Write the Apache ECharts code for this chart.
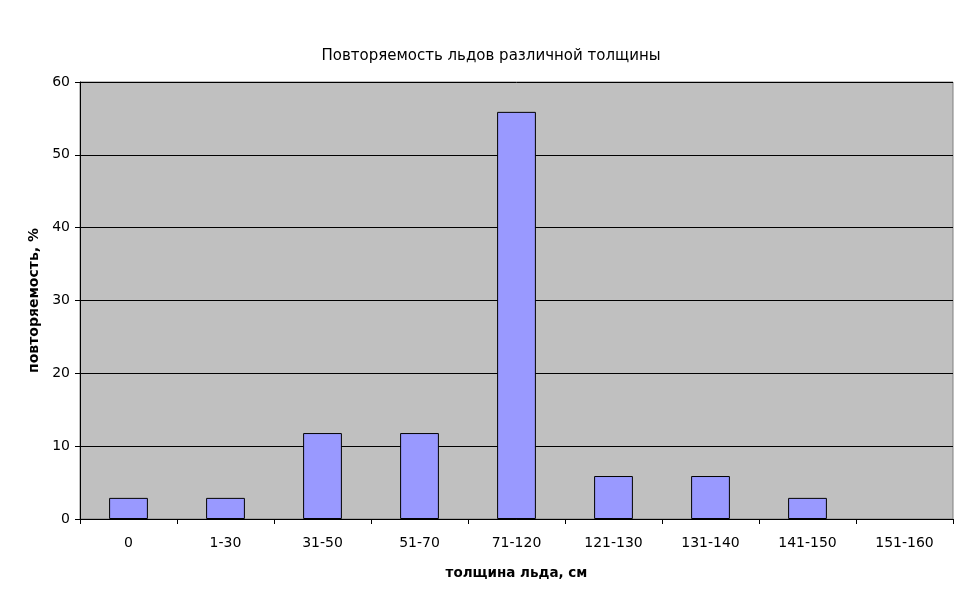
<!DOCTYPE html>
<html><head><meta charset="utf-8">
<script src="https://cdn.jsdelivr.net/npm/echarts@6/dist/echarts.min.js"></script>
<style>html,body{margin:0;padding:0;background:#fff}#c{width:969px;height:603px}</style>
</head><body><div id="c"></div>
<script>
const categories = ['0','1-30','31-50','51-70','71-120','121-130','131-140','141-150','151-160'];
const values = [2.9, 2.9, 11.8, 11.8, 55.9, 5.9, 5.9, 2.9, 0];
const yTicks = {min: 0, max: 60, interval: 10};
const titleText = 'Повторяемость льдов различной толщины';
const xName = 'толщина льда, см';
const yName = 'повторяемость, %';

const chart = echarts.init(document.getElementById('c'));
const font = 'DejaVu Sans, sans-serif';
chart.setOption({
  animation: false,
  title: {text: titleText, left: 486, top: 44, textAlign: 'center',
    textStyle: {fontFamily: font, fontSize: 15, fontWeight: 'normal', color: '#000'}},
  grid: {left: 80, right: 16, top: 82, bottom: 84, show: true, backgroundColor: '#C0C0C0',
    borderColor: '#808080', borderWidth: 1},
  xAxis: {type: 'category', data: categories,
    name: xName, nameLocation: 'middle', nameGap: 47,
    nameTextStyle: {fontFamily: font, fontSize: 13.5, fontWeight: 'bold', color: '#000'},
    axisLine: {lineStyle: {color: '#000', width: 1}},
    axisTick: {show: true, alignWithLabel: false, length: 5, lineStyle: {color: '#000'}},
    axisLabel: {fontFamily: font, fontSize: 14, color: '#000', margin: 17, interval: 0}},
  yAxis: {type: 'value', min: yTicks.min, max: yTicks.max, interval: yTicks.interval,
    name: yName, nameLocation: 'middle', nameGap: 35, nameRotate: 90,
    nameTextStyle: {fontFamily: font, fontSize: 14, fontWeight: 'bold', color: '#000'},
    axisLine: {show: true, lineStyle: {color: '#000', width: 1}},
    axisTick: {show: true, length: 5, lineStyle: {color: '#000'}},
    axisLabel: {fontFamily: font, fontSize: 14, color: '#000', margin: 10},
    splitLine: {show: true, lineStyle: {color: '#000', width: 1}}},
  series: [{type: 'bar', barWidth: '40%',
    data: values.map(v => v === 0 ? {value: v, itemStyle: {borderWidth: 0}} : v),
    itemStyle: {color: '#9999FF', borderColor: '#000', borderWidth: 1}}]
});
</script></body></html>
